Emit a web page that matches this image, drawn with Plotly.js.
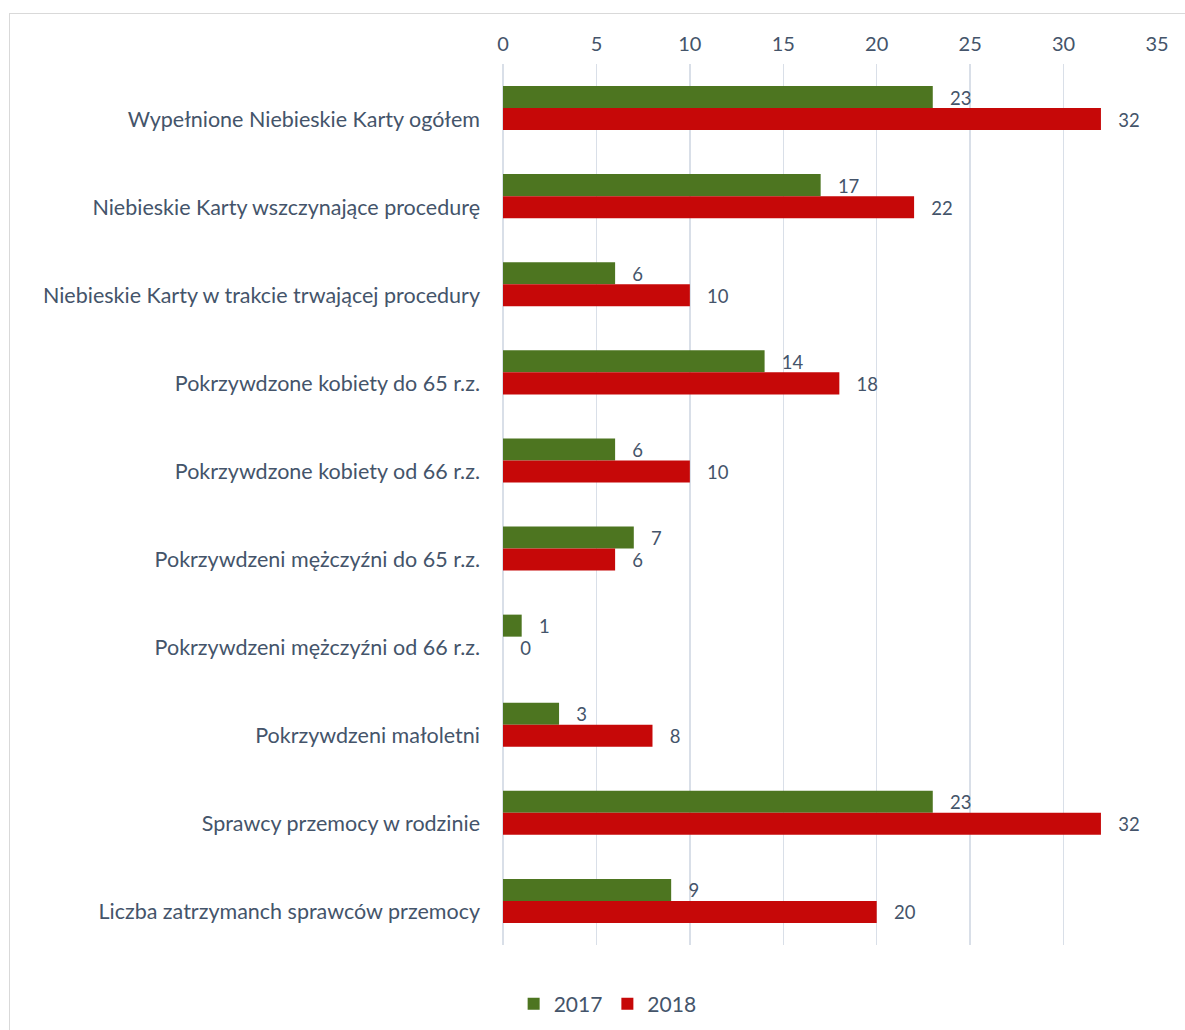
<!DOCTYPE html>
<html><head><meta charset="utf-8">
<script src="https://cdn.plot.ly/plotly-3.0.1.min.js"></script>
<style>
html,body{margin:0;padding:0;background:#fff;}
#frame{position:absolute;left:9px;top:13px;width:1190px;height:1030px;border:1px solid #d9d9d9;box-sizing:border-box;}
#chart{position:absolute;left:0;top:0;width:1185px;height:1030px;}
</style></head>
<body>
<div id="frame"></div>
<div id="chart"></div>
<script>
const categories = [
  "Wypełnione Niebieskie Karty ogółem",
  "Niebieskie Karty wszczynające procedurę",
  "Niebieskie Karty w trakcie trwającej procedury",
  "Pokrzywdzone kobiety do 65 r.z.",
  "Pokrzywdzone kobiety od 66 r.z.",
  "Pokrzywdzeni mężczyźni do 65 r.z.",
  "Pokrzywdzeni mężczyźni od 66 r.z.",
  "Pokrzywdzeni małoletni",
  "Sprawcy przemocy w rodzinie",
  "Liczba zatrzymanch sprawców przemocy"
];
const values2017 = [23, 17, 6, 14, 6, 7, 1, 3, 23, 9];
const values2018 = [32, 22, 10, 18, 10, 6, 0, 8, 32, 20];
const seriesNames = ["2017", "2018"];

const fam = "Lato, 'Open Sans', sans-serif";
const txtFont = {family: fam, size: 21, color: "#44546a"};
const pad = "\u00a0\u00a0\u00a0";

const traces = [
  {type: "bar", orientation: "h", name: seriesNames[0], y: categories, x: values2017,
   marker: {color: "#4d7520"}, texttemplate: pad + "%{x}",
   textposition: "outside", textfont: txtFont, cliponaxis: false},
  {type: "bar", orientation: "h", name: seriesNames[1], y: categories, x: values2018,
   marker: {color: "#c60808"}, texttemplate: pad + "%{x}",
   textposition: "outside", textfont: txtFont, cliponaxis: false}
];

const layout = {
  width: 1185, height: 1030,
  margin: {l: 503, r: 28, t: 64, b: 85, autoexpand: false},
  paper_bgcolor: "rgba(0,0,0,0)", plot_bgcolor: "rgba(0,0,0,0)",
  barmode: "group", bargap: 0.5, bargroupgap: 0,
  font: txtFont,
  showlegend: true,
  legend: {orientation: "h", x: 0.16, xanchor: "center", y: -0.067, yanchor: "middle",
           font: {family: fam, size: 21, color: "#44546a"}, traceorder: "normal", itemwidth: 30},
  xaxis: {side: "top", range: [0, 35], dtick: 5, showgrid: true, gridcolor: "#d9dfe8", gridwidth: 1.5,
          zeroline: true, zerolinecolor: "#d9dfe8", zerolinewidth: 1.5, showline: false, automargin: false,
          ticks: "", ticklabelstandoff: 8, tickfont: {family: fam, size: 20, color: "#44546a"}},
  yaxis: {autorange: "reversed", showgrid: false, zeroline: false, showline: false, ticks: "", automargin: false,
          ticklabelstandoff: 22, ticklabelshift: -11, tickfont: {family: fam, size: 21.5, color: "#44546a"}}
};

Plotly.newPlot("chart", traces, layout, {displayModeBar: false, staticPlot: true});
</script>
</body></html>
